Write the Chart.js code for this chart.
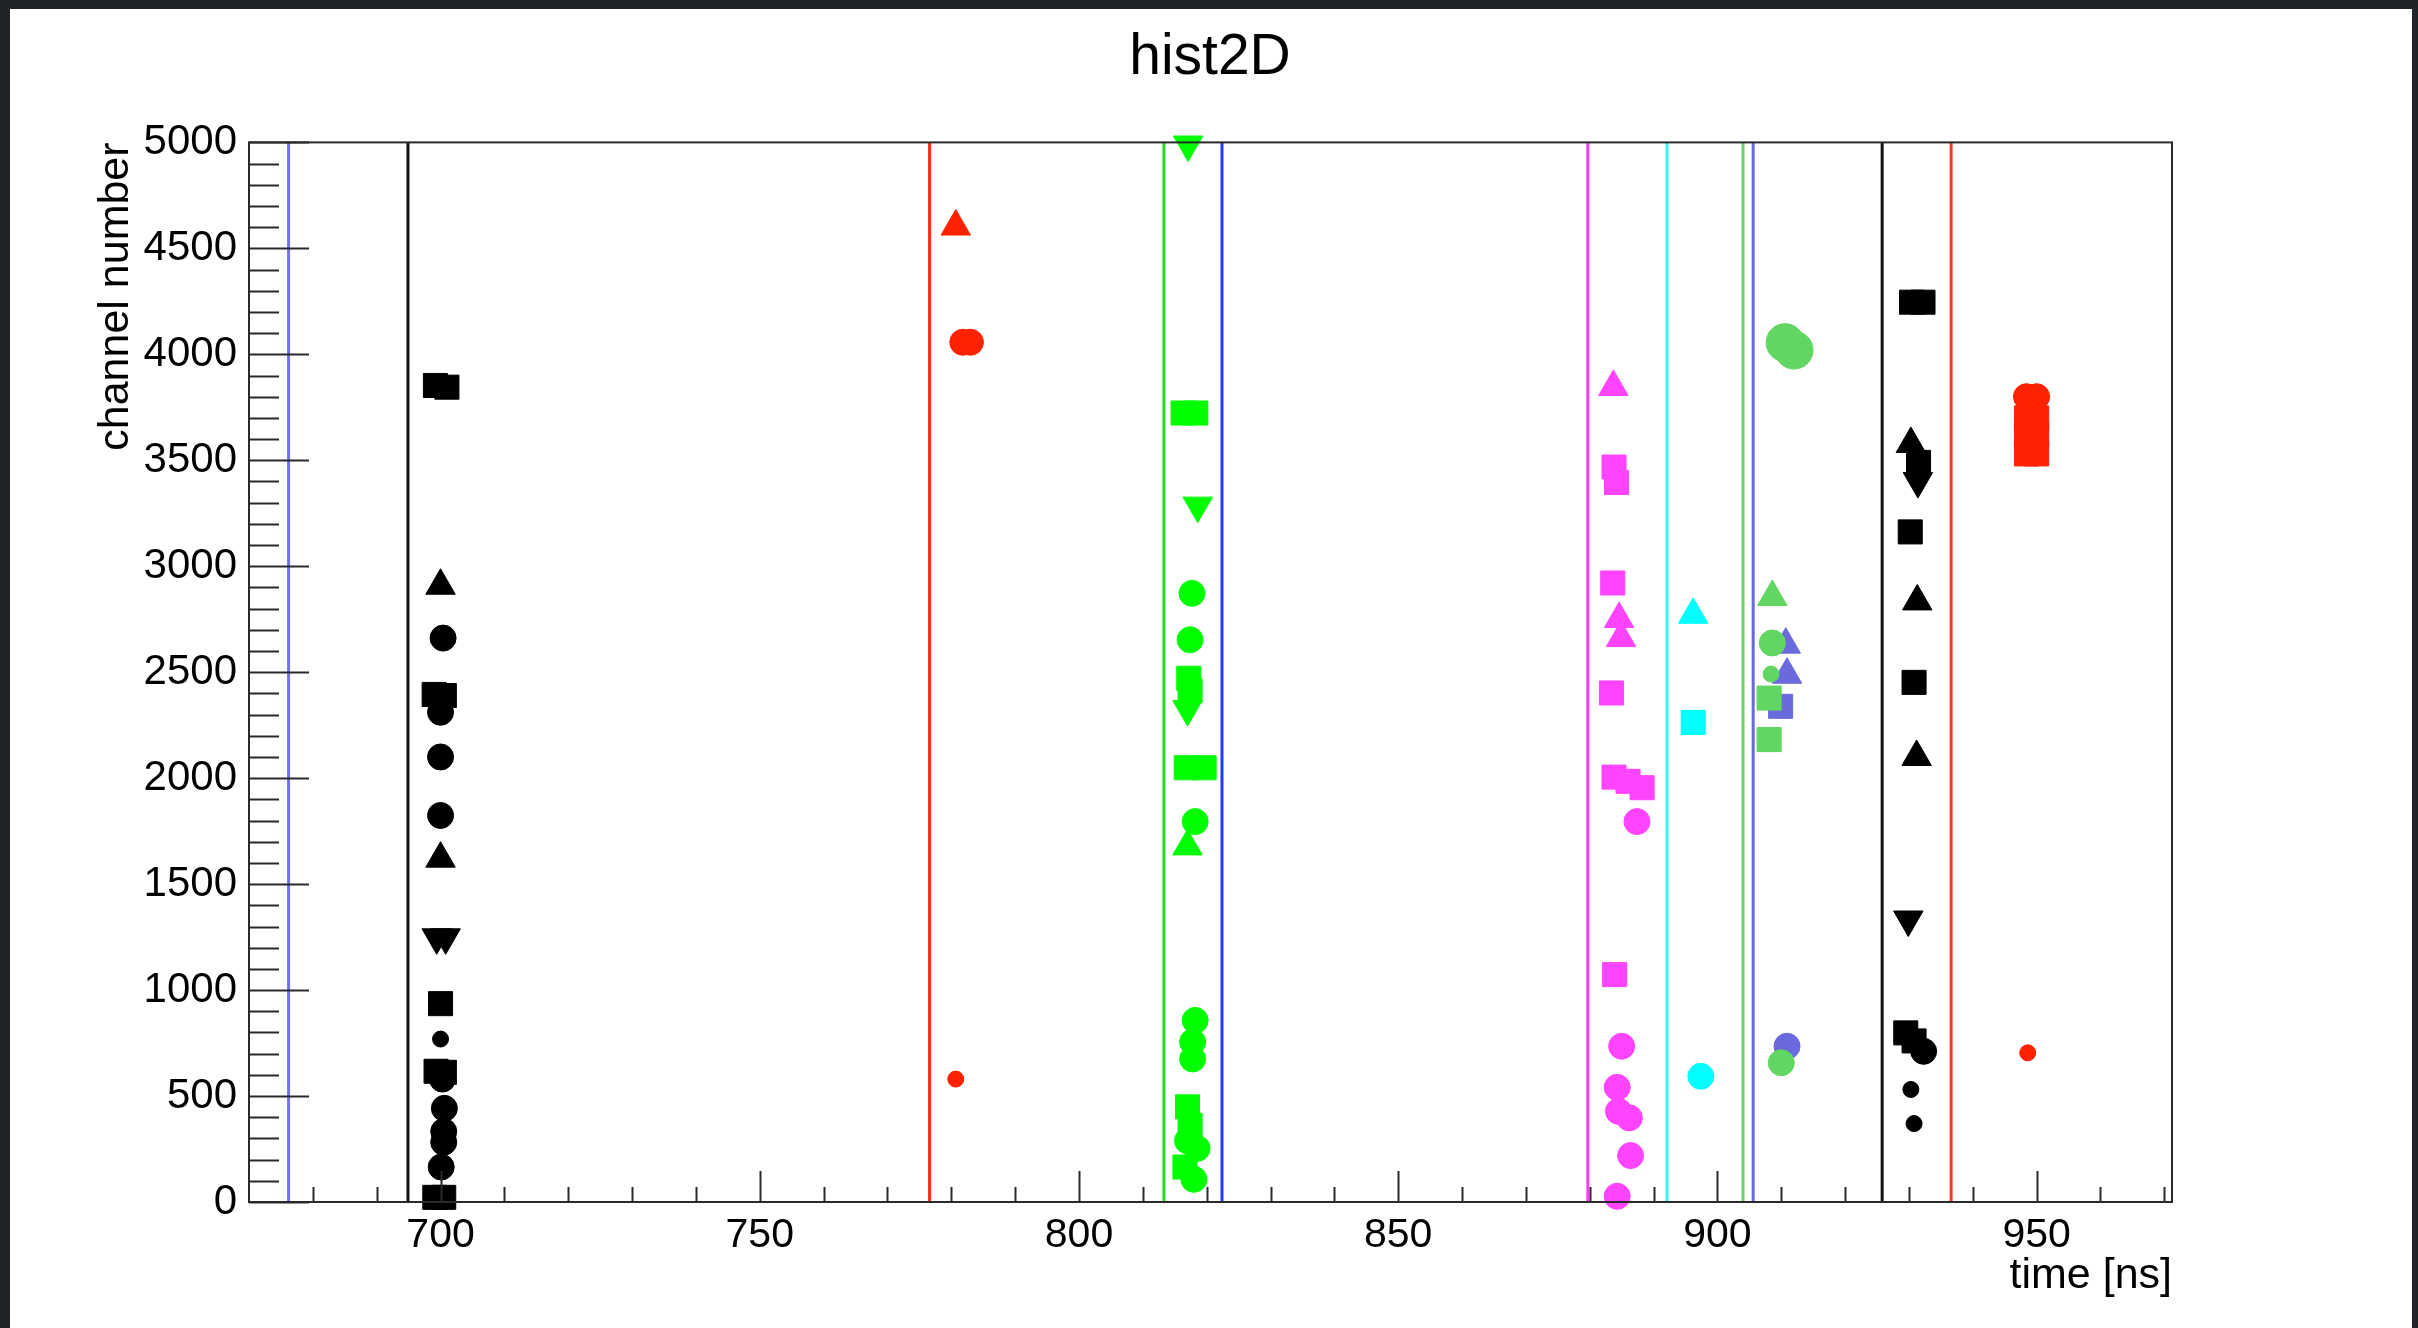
<!DOCTYPE html>
<html>
<head>
<meta charset="utf-8">
<script src="https://cdn.jsdelivr.net/npm/chart.js@4.4.1/dist/chart.umd.min.js"></script>
<style>
  html, body { margin: 0; padding: 0; width: 2418px; height: 1328px; overflow: hidden;
    background: #202327; }
  #paper { position: absolute; left: 10px; top: 9px; width: 2402px; height: 1319px; background: #ffffff; }
  #c { position: absolute; left: 0; top: 0; }
</style>
</head>
<body>
<div id="paper"></div>
<canvas id="c" width="2418" height="1328"></canvas>
<script>
// ---------------- data (time in ns, channel number) ----------------
const xRange = [670, 971.2];
const yRange = [0, 5000];
const xMajorTicks = [700, 750, 800, 850, 900, 950];
const yMajorTicks = [0, 500, 1000, 1500, 2000, 2500, 3000, 3500, 4000, 4500, 5000];

// vertical reference lines
const lineTimes  = [676.2, 694.9, 776.6, 813.3, 822.4, 879.7, 892.1, 904.0, 905.6, 925.8, 936.6];
const lineColors = ['#7272f2', '#111111', '#ff2a10', '#1fe01f', '#2038ff', '#ff3cff', '#2ef6f6', '#66d466', '#6a6ae0', '#111111', '#ff3a2a'];

// hit clusters: shape codes s=square t=triangle v=inverted triangle o=circle .=small circle O=big circle
const blackAT  = [699.2, 701.0, 700.0, 700.4, 699.0, 700.6, 700.0, 700.0, 700.0, 700.0, 699.4, 700.8, 700.0, 700.0, 699.3, 700.6, 700.3, 700.6, 700.5, 700.5, 700.1, 699.1, 700.5];
const blackACh = [3853, 3845, 2908, 2661, 2395, 2390, 2311, 2100, 1824, 1620, 1249, 1249, 936, 769, 617, 612, 580, 442, 333, 282, 165, 22, 22];
const blackASh = ['s','s','t','o','s','s','o','o','o','t','v','v','s','.','s','s','o','o','o','o','o','s','s'];

const redAT  = [780.7, 781.8, 783.0, 780.7];
const redACh = [4603, 4057, 4057, 580];
const redASh = ['t','o','o','.'];

const greenAT  = [817.1, 816.3, 818.3, 818.6, 817.7, 817.4, 817.2, 817.4, 817.0, 816.8, 819.6, 818.2, 817.0, 818.2, 817.8, 817.8, 817.0, 817.4, 817.0, 818.5, 816.6, 818.0];
const greenACh = [4990, 3723, 3723, 3286, 2872, 2653, 2471, 2413, 2326, 2049, 2049, 1795, 1678, 857, 755, 675, 449, 362, 289, 253, 165, 107];
const greenASh = ['v','s','s','v','o','o','s','s','v','s','s','o','t','o','o','o','s','s','o','o','s','o'];

const magentaT  = [883.7, 883.8, 884.2, 883.6, 884.6, 884.9, 883.4, 883.8, 886.0, 888.2, 887.4, 883.9, 885.0, 884.3, 884.5, 886.2, 886.4, 884.3];
const magentaCh = [3846, 3468, 3395, 2921, 2751, 2661, 2402, 2005, 1985, 1955, 1795, 1073, 735, 541, 428, 397, 219, 27];
const magentaSh = ['t','s','s','s','t','t','s','s','s','s','o','s','o','o','o','o','o','o'];

const cyanT  = [896.2, 896.2, 897.4];
const cyanCh = [2771, 2263, 593];
const cyanSh = ['t','s','o'];

const greenBT  = [910.6, 912.0, 908.6, 908.6, 908.4, 908.1, 908.1, 910.0];
const greenBCh = [4055, 4020, 2855, 2638, 2491, 2378, 2182, 657];
const greenBSh = ['O','O','t','o','.','s','s','o'];

const violetT  = [910.7, 910.9, 909.9, 910.9];
const violetCh = [2630, 2488, 2339, 735];
const violetSh = ['t','t','s','o'];

const blackBT  = [930.4, 932.2, 930.3, 931.5, 931.4, 930.2, 931.3, 930.8, 931.2, 929.9, 929.5, 930.8, 932.3, 930.3, 930.8];
const blackBCh = [4246, 4246, 3577, 3490, 3402, 3162, 2834, 2452, 2100, 1333, 798, 760, 711, 531, 370];
const blackBSh = ['s','s','t','s','v','s','t','s','t','v','s','s','o','.','.'];

const redBT  = [948.4, 950.0, 948.4, 950.0, 948.4, 950.0, 948.4, 950.0, 948.6];
const redBCh = [3800, 3800, 3700, 3700, 3620, 3620, 3530, 3530, 704];
const redBSh = ['o','o','s','s','s','s','s','s','.'];

// ---------------- build chart ----------------
const FONT = '"Liberation Sans", Arial, Helvetica, sans-serif';
const shapeStyle = { s: 'rect', t: 'triangle', v: 'triangle', o: 'circle', '.': 'circle', O: 'circle' };
const shapeRot   = { s: 0, t: 0, v: 180, o: 0, '.': 0, O: 0 };
const shapeRad   = { s: 17, t: 17, v: 17, o: 13, '.': 8, O: 19 };

function cluster(ts, chs, shs, color) {
  return {
    type: 'scatter',
    data: ts.map((t, i) => ({ x: t, y: chs[i] })),
    pointStyle: shs.map(s => shapeStyle[s]),
    rotation: shs.map(s => shapeRot[s]),
    pointRadius: shs.map(s => shapeRad[s]),
    backgroundColor: color,
    borderColor: color,
    borderWidth: 1,
    clip: false,
    order: 0
  };
}

const datasets = [];
lineTimes.forEach((t, i) => {
  datasets.push({
    type: 'line',
    data: [{ x: t, y: yRange[0] }, { x: t, y: yRange[1] }],
    borderColor: lineColors[i],
    borderWidth: 3,
    pointRadius: 0,
    fill: false,
    order: 10
  });
});
datasets.push(cluster(blackAT, blackACh, blackASh, '#000000'));
datasets.push(cluster(redAT, redACh, redASh, '#ff2200'));
datasets.push(cluster(greenAT, greenACh, greenASh, '#00ff00'));
datasets.push(cluster(magentaT, magentaCh, magentaSh, '#ff44ff'));
datasets.push(cluster(cyanT, cyanCh, cyanSh, '#00ffff'));
datasets.push(cluster(greenBT, greenBCh, greenBSh, '#62d662'));
datasets.push(cluster(violetT, violetCh, violetSh, '#6a6ade'));
datasets.push(cluster(blackBT, blackBCh, blackBSh, '#000000'));
datasets.push(cluster(redBT, redBCh, redBSh, '#ff2200'));

// ROOT-style frame with inward ticks, drawn through the chart scales
const rootFrame = {
  id: 'rootFrame',
  afterDatasetsDraw(chart) {
    const { ctx, chartArea: a, scales: { x, y } } = chart;
    ctx.save();
    ctx.strokeStyle = '#2a2a2a';
    ctx.lineWidth = 2;
    ctx.strokeRect(a.left, a.top, a.right - a.left, a.bottom - a.top);
    ctx.beginPath();
    for (let v = yRange[0]; v <= yRange[1] + 1e-6; v += 100) {
      const py = Math.round(y.getPixelForValue(v)) + 0.5;
      const len = (v % 500 === 0) ? 60 : 30;
      ctx.moveTo(a.left, py); ctx.lineTo(a.left + len, py);
    }
    for (let v = 680; v <= xRange[1]; v += 10) {
      const px = Math.round(x.getPixelForValue(v)) + 0.5;
      const len = (v % 50 === 0) ? 31 : 15;
      ctx.moveTo(px, a.bottom); ctx.lineTo(px, a.bottom - len);
    }
    ctx.stroke();
    ctx.restore();
  }
};

new Chart(document.getElementById('c'), {
  data: { datasets },
  plugins: [rootFrame],
  options: {
    responsive: false,
    animation: false,
    layout: { padding: { left: 10, right: 8, top: 0, bottom: 0 } },
    plugins: {
      legend: { display: false },
      tooltip: { enabled: false },
      title: {
        display: true, text: 'hist2D', color: '#000',
        font: { family: FONT, size: 57, weight: 'normal' },
        padding: { top: 24, bottom: 50 }
      }
    },
    scales: {
      x: {
        type: 'linear', position: 'bottom', min: xRange[0], max: xRange[1],
        afterBuildTicks: s => { s.ticks = xMajorTicks.map(v => ({ value: v })); },
        ticks: { color: '#000', font: { family: FONT, size: 41 }, padding: 9, maxRotation: 0, autoSkip: false,
                 callback: v => String(v) },
        grid: { display: false, drawTicks: false },
        border: { display: false },
        title: { display: true, text: 'time [ns]', align: 'end', color: '#000',
                 font: { family: FONT, size: 43 }, padding: { top: 0, bottom: 26 } },
        afterFit: s => { s.height = 126; }
      },
      y: {
        type: 'linear', position: 'left', min: yRange[0], max: yRange[1],
        afterBuildTicks: s => { s.ticks = yMajorTicks.map(v => ({ value: v })); },
        ticks: { color: '#000', font: { family: FONT, size: 42 }, padding: 12, autoSkip: false,
                 callback: v => String(v) },
        grid: { display: false, drawTicks: false },
        border: { display: false },
        title: { display: true, text: 'channel number', align: 'end', color: '#000',
                 font: { family: FONT, size: 43 }, padding: { top: 80, bottom: 0 } },
        afterFit: s => { s.width = 239; }
      },
      yRightMargin: {
        type: 'linear', position: 'right', min: yRange[0], max: yRange[1],
        ticks: { display: false },
        grid: { display: false, drawTicks: false },
        border: { display: false },
        afterFit: s => { s.width = 238; }
      }
    }
  }
});
</script>
</body>
</html>
